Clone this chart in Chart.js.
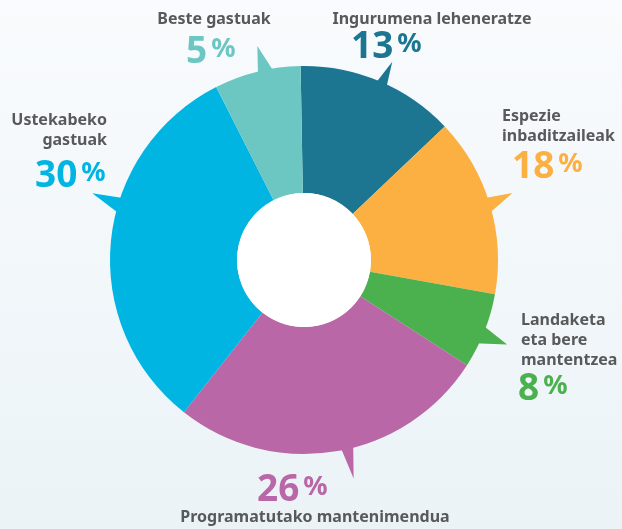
<!DOCTYPE html>
<html>
<head>
<meta charset="utf-8">
<script src="https://cdn.jsdelivr.net/npm/chart.js@4.4.1/dist/chart.umd.min.js"></script>
<style>
  html, body { margin: 0; padding: 0; }
  body { width: 622px; height: 529px; overflow: hidden; background: linear-gradient(#f9fbfd, #ebf3f7); }
</style>
</head>
<body>
<canvas id="pie" width="622" height="529"></canvas>
<script>
// categories, clockwise from the top
const categories = ['Ingurumena leheneratze', 'Espezie inbaditzaileak', 'Landaketa eta bere mantentzea',
  'Programatutako mantenimendua', 'Ustekabeko gastuak', 'Beste gastuak'];
// text lines as printed next to each slice
const titleLines = [['Ingurumena leheneratze'], ['Espezie', 'inbaditzaileak'], ['Landaketa', 'eta bere', 'mantentzea'],
  ['Programatutako mantenimendua'], ['Ustekabeko', 'gastuak'], ['Beste gastuak']];
// printed percentages
const percentLabels = [13, 18, 8, 26, 30, 5];
// slice sizes as they are drawn (the picture does not follow the printed numbers exactly)
const sliceShares = [13.2, 14.9, 6.3, 26.5, 31.9, 7.2];
const sliceColors = ['#1d7691', '#fcb042', '#4bb04e', '#b967a7', '#00b5e2', '#6cc7c3'];

const textGray = '#58595b';
const FONT = '"Noto Sans", sans-serif';

// little speech-bubble tails : [base angle 1, base angle 2, tip angle, tip distance past the rim]
const tails = [
  [22, 25.6, 24, 23],
  [71, 76, 72.2, 25],
  [110, 116, 112.6, 26],
  [165, 169, 167.2, 30],
  [284, 289, 287.5, 28],
  [346, 351, 347.7, 25]
];

// where the labels go
const labelPos = [
  { x: 432, align: 'center', y: 24, numX: 351, numY: 58 },
  { x: 502, align: 'left', y: 121, numX: 512, numY: 178 },
  { x: 521, align: 'left', y: 325, numX: 518, numY: 400 },
  { x: 315, align: 'center', y: 522, numX: 257, numY: 501 },
  { x: 107, align: 'right', y: 125, numX: 35, numY: 187 },
  { x: 214, align: 'center', y: 24, numX: 186, numY: 63 }
];

function polar(cx, cy, r, deg) {
  const a = (deg - 90) * Math.PI / 180;
  return [cx + r * Math.cos(a), cy + r * Math.sin(a)];
}

const decorPlugin = {
  id: 'decor',
  afterDatasetsDraw(chart) {
    const ctx = chart.ctx;
    const arcs = chart.getDatasetMeta(0).data;
    const cx = arcs[0].x, cy = arcs[0].y;
    const R = arcs[0].outerRadius, r0 = arcs[0].innerRadius;

    ctx.save();
    // tails
    tails.forEach((t, i) => {
      const p1 = polar(cx, cy, R - 4, t[0]);
      const p2 = polar(cx, cy, R + t[3], t[2]);
      const p3 = polar(cx, cy, R - 4, t[1]);
      ctx.beginPath();
      ctx.moveTo(p1[0], p1[1]);
      ctx.lineTo(p2[0], p2[1]);
      ctx.lineTo(p3[0], p3[1]);
      ctx.closePath();
      ctx.fillStyle = sliceColors[i];
      ctx.fill();
    });

    // white hole
    ctx.beginPath();
    ctx.arc(cx, cy, r0, 0, Math.PI * 2);
    ctx.fillStyle = '#ffffff';
    ctx.fill();

    // labels
    ctx.textBaseline = 'alphabetic';
    labelPos.forEach((p, i) => {
      ctx.fillStyle = textGray;
      ctx.font = 'bold 16px ' + FONT;
      ctx.textAlign = p.align;
      titleLines[i].forEach((line, k) => {
        ctx.fillText(line, p.x, p.y + k * 20);
      });

      ctx.textAlign = 'left';
      ctx.fillStyle = sliceColors[i];
      ctx.font = 'bold 37px ' + FONT;
      const txt = String(percentLabels[i]);
      ctx.fillText(txt, p.numX, p.numY);
      const w = ctx.measureText(txt).width;
      ctx.font = 'bold 27px ' + FONT;
      ctx.fillText('%', p.numX + w + 4, p.numY - 6);
    });
    ctx.restore();
  }
};

new Chart(document.getElementById('pie'), {
  type: 'doughnut',
  data: {
    labels: categories,
    datasets: [{
      data: sliceShares,
      backgroundColor: sliceColors,
      borderWidth: 0
    }]
  },
  options: {
    responsive: false,
    animation: false,
    rotation: -1,
    cutout: 67,
    layout: { padding: { left: 110, right: 124, top: 66, bottom: 75 } },
    plugins: {
      legend: { display: false },
      tooltip: { enabled: false }
    }
  },
  plugins: [decorPlugin]
});
</script>
</body>
</html>
